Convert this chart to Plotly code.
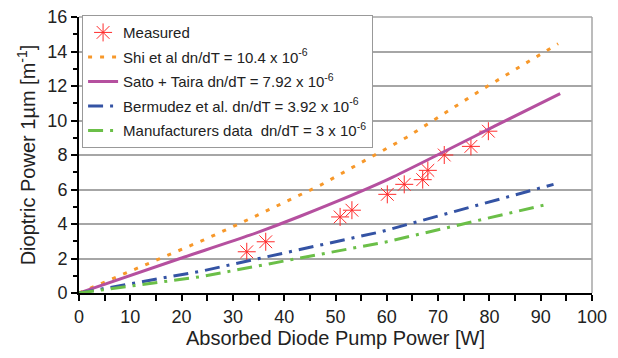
import plotly.graph_objects as go

# Measured data
meas_x = [32.7, 36.4, 50.9, 53.2, 60.1, 63.4, 67.0, 68.0, 71.2, 76.4, 79.8]
meas_y = [2.39, 2.97, 4.41, 4.80, 5.72, 6.30, 6.57, 7.11, 8.00, 8.50, 9.38]

# Model curves
shi_x = [0, 24.2, 32.0, 47.0, 63.9, 78.2, 93.4]
shi_y = [0, 3.06, 4.12, 6.24, 9.03, 11.73, 14.45]

sato_x = [0, 19.7, 33.3, 43.1, 59.6, 82.1, 93.8]
sato_y = [0, 2.00, 3.35, 4.45, 6.50, 9.83, 11.56]

berm_x = [0, 24.2, 58.7, 92.5]
berm_y = [0, 1.29, 3.54, 6.30]

manu_x = [0, 23.6, 60.0, 91.8]
manu_y = [0, 0.94, 2.97, 5.18]

names = [
    "Measured",
    "Shi et al dn/dT = 10.4 x 10<sup>-6</sup>",
    "Sato + Taira dn/dT = 7.92 x 10<sup>-6</sup>",
    "Bermudez et al. dn/dT = 3.92 x 10<sup>-6</sup>",
    "Manufacturers data  dn/dT = 3 x 10<sup>-6</sup>",
]

fig = go.Figure()
fig.add_trace(go.Scatter(x=meas_x, y=meas_y, mode="markers", name=names[0], legendgroup="a",
                         marker=dict(symbol="asterisk-open", size=15, color="#FF2A2A",
                                     line=dict(width=1, color="#FF2A2A"))))
fig.add_trace(go.Scatter(x=shi_x, y=shi_y, mode="lines", name=names[1], legendgroup="b",
                         line=dict(color="#F7982A", width=3, dash="4px,8px")))
fig.add_trace(go.Scatter(x=sato_x, y=sato_y, mode="lines", name=names[2], legendgroup="c",
                         line=dict(color="#B5509F", width=3, shape="spline", smoothing=0.6)))
fig.add_trace(go.Scatter(x=berm_x, y=berm_y, mode="lines", name=names[3], legendgroup="d",
                         line=dict(color="#3453A4", width=3, dash="15px,7px,3px,7px")))
fig.add_trace(go.Scatter(x=manu_x, y=manu_y, mode="lines", name=names[4], legendgroup="e",
                         line=dict(color="#6BBF48", width=3, dash="15px,7px,3px,7px")))

font = "Liberation Sans, Arial, sans-serif"
fig.update_layout(
    width=610, height=350,
    margin=dict(l=71, r=26, t=8, b=65),
    paper_bgcolor="white", plot_bgcolor="white",
    font=dict(family=font, size=18, color="#222"),
    showlegend=True,
    legend=dict(x=0.006, y=1.003, xanchor="left", yanchor="top",
                bgcolor="white", bordercolor="#999", borderwidth=1,
                font=dict(size=15, color="#222"), tracegroupgap=2,
                itemwidth=30),
    xaxis=dict(range=[0, 100], tickmode="linear", tick0=0, dtick=10,
               showgrid=False, zeroline=False, automargin=False,
               showline=True, linecolor="black", linewidth=2,
               ticks="outside", ticklen=6, tickwidth=2, tickcolor="black",
               minor=dict(dtick=5, ticks="outside", ticklen=6, tickwidth=2, tickcolor="black"),
               title=dict(text="Absorbed Diode Pump Power [W]", font=dict(size=20), standoff=4),
               tickfont=dict(size=18), ticklabeloverflow="allow"),
    yaxis=dict(range=[0, 16], tickmode="linear", tick0=0, dtick=2,
               showgrid=True, gridcolor="#A6A6A6", gridwidth=1.5, zeroline=False,
               automargin=False, ticklabeloverflow="allow",
               showline=True, linecolor="black", linewidth=2,
               ticks="outside", ticklen=6, tickwidth=2, tickcolor="black",
               minor=dict(dtick=1, ticks="outside", ticklen=4, tickwidth=2, tickcolor="black"),
               title=dict(text="Dioptric Power 1µm [m<sup>-1</sup>]", font=dict(size=20), standoff=6),
               tickfont=dict(size=18)),
    shapes=[dict(type="line", xref="paper", yref="paper", x0=1, x1=1, y0=0, y1=1,
                 line=dict(color="#A6A6A6", width=1.5), layer="below"),
            dict(type="line", xref="paper", yref="paper", x0=0, x1=1, y0=1, y1=1,
                 line=dict(color="#A6A6A6", width=1.5), layer="below")],
)

fig.write_html("out.html")
